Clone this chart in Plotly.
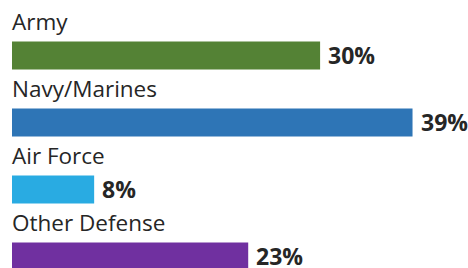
import plotly.graph_objects as go

categories = ["Army", "Navy/Marines", "Air Force", "Other Defense"]
values = [30, 39, 8, 23]
value_labels = ["30%", "39%", "8%", "23%"]
colors = ["#548235", "#2E75B6", "#29ABE2", "#7030A0"]

W, H = 468, 268
left = 12
px_per_unit = 10.27
spacing = 67.0
first_center = 55.5

pos = list(range(len(categories)))

fig = go.Figure(go.Bar(
    x=values, y=pos, orientation="h",
    marker=dict(color=colors, line=dict(width=0)),
    width=28 / spacing, hoverinfo="skip",
))

font_family = "Open Sans, Noto Sans, sans-serif"
for i, (c, v, t) in enumerate(zip(categories, values, value_labels)):
    fig.add_annotation(x=0, y=i, text=c, showarrow=False, xanchor="left", yanchor="middle",
                       yshift=34, xshift=-2, font=dict(family=font_family, size=22.5, color="#262626"))
    fig.add_annotation(x=v, y=i, text="<b>" + t + "</b>", showarrow=False, xanchor="left",
                       yanchor="middle", xshift=6, yshift=1,
                       font=dict(family=font_family, size=23, color="#262626"))

fig.update_layout(
    width=W, height=H, margin=dict(l=left, r=0, t=0, b=0),
    paper_bgcolor="white", plot_bgcolor="white", showlegend=False,
    xaxis=dict(range=[0, (W - left) / px_per_unit], visible=False, fixedrange=True),
    yaxis=dict(range=[(H - first_center) / spacing, -first_center / spacing],
               visible=False, fixedrange=True),
)
fig.write_html("out.html", config={"displayModeBar": False},
               post_script="document.body.style.margin='0';document.body.style.overflow='hidden';")
